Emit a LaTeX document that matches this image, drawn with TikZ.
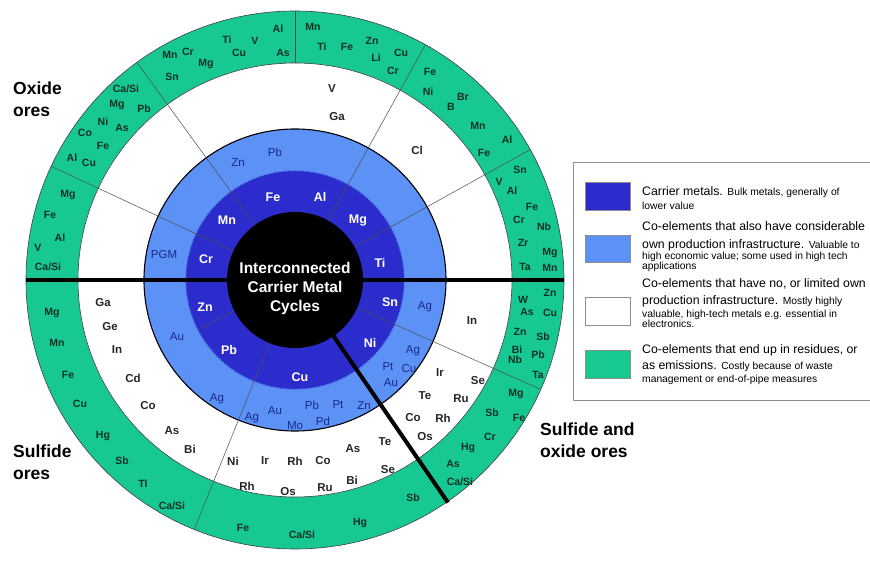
\documentclass[tikz,border=0pt]{standalone}
\usepackage{fontspec}
\setmainfont{Liberation Sans}
\usetikzlibrary{decorations.pathmorphing}

\definecolor{carrier}{RGB}{44,44,204}
\definecolor{coown}{RGB}{92,146,246}
\definecolor{residue}{RGB}{24,200,146}
\definecolor{residuetext}{RGB}{10,50,35}
\definecolor{coowntext}{RGB}{28,40,140}

\newcommand{\legsmall}{\fontsize{10.3}{10}\selectfont}
\newcommand{\leglines}{\lineskiplimit=-100pt\relax}

\tikzset{
  ring edge/.style={draw=black!75,line width=0.6pt},
  sector line/.style={draw=black!70,line width=0.5pt},
  ore line/.style={draw=black,line width=4pt},
  el green/.style={font=\fontsize{10.5}{12}\selectfont\bfseries,text=residuetext,inner sep=0pt},
  el white/.style={font=\fontsize{11.5}{13}\selectfont\bfseries,text=black!85,inner sep=0pt},
  el blue/.style={font=\fontsize{11.5}{13}\selectfont,text=coowntext,inner sep=0pt},
  el carrier/.style={font=\fontsize{12.5}{14}\selectfont\bfseries,text=white,inner sep=0pt},
  ore label/.style={font=\fontsize{17.5}{21.5}\selectfont\bfseries,align=left,anchor=north west,inner sep=0pt},
  swatch/.style={draw=black!45,line width=0.5pt},
  legend text/.style={text width=270pt,align=flush left,anchor=north west,inner sep=0pt,
    font=\fontsize{12.3}{10}\selectfont,execute at begin node=\leglines},
}

\begin{document}
\begin{tikzpicture}[x=1pt,y=1pt]
\useasboundingbox (-295,-281) rectangle (575,280);
\fill[white] (-295,-281) rectangle (575,280);

% rings
\fill[residue,ring edge] (0,0) circle (269);
\fill[white,ring edge] (0,0) circle (217);
\fill[coown,draw=black,line width=1.1pt] (0,0) circle (151);
\fill[carrier,decorate,decoration={zigzag,segment length=2.2pt,amplitude=0.8pt}] (0,0) circle (109);

% sector boundaries
\foreach \a in {29,61,126,155,248,336}
  \draw[sector line] (\a:68) -- (\a:269);
\draw[sector line] (90:217) -- (90:269);
\draw[sector line] (207:68) -- (207:109);

\fill[black] (0,0) circle (68);

% ore boundaries
\draw[ore line] (180:269) -- (0:269);
\draw[ore line] (-55.5:66) -- (-55.5:270);

\node[font=\fontsize{15.5}{19}\selectfont\bfseries,text=white,align=center] (hub) at (0,-8)
  {Interconnected\\Carrier Metal\\Cycles};

\begin{scope}[x=1pt,y=-1pt,shift={(-295pt,280pt)}]
% residues ring
\foreach \px/\py/\el [count=\i] in {170/55/Mn,188/52/Cr,206/64/Mg,227/40/Ti,255/41/V,239/53/Cu,278/29/Al,283/53/As,172/77/Sn,
  126/89/{Ca/Si},117/105/Mg,144/109/Pb,103/122/Ni,122/128/As,85/133/Co,103/146/Fe,72/158/Al,89/163/Cu,
  313/27/Mn,322/47/Ti,347/47/Fe,372/41/Zn,376/58/Li,401/53/Cu,393/71/Cr,
  430/72/Fe,428/92/Ni,463/97/Br,451/107/B,478/126/Mn,507/140/Al,484/153/Fe,
  520/170/Sn,499/182/V,512/191/Al,532/207/Fe,519/220/Cr,544/227/Nb,523/243/Zr,550/253/Mg,525/267/Ta,550/268/Mn,
  550/293/Zn,523/300/W,527/312/As,550/313/Cu,520/332/Zn,543/337/Sb,517/350/Bi,515/360/Nb,538/355/Pb,538/375/Ta,
  516/394/Mg,492/413/Sb,519/418/Fe,490/437/Cr,468/448/Hg,453/464/As,460/482/{Ca/Si},
  413/498/Sb,360/523/Hg,302/535/{Ca/Si},243/528/Fe,
  172/506/{Ca/Si},143/484/Tl,122/461/Sb,103/436/Hg,80/404/Cu,68/375/Fe,57/343/Mn,52/313/Mg,
  68/195/Mg,50/215/Fe,60/238/Al,38/248/V,48/267/{Ca/Si}}
  \node[el green] (res\i) at (\px,\py) {\el};
% no own infrastructure ring
\foreach \px/\py/\el [count=\i] in {332/89/V,337/117/Ga,417/150/Cl,472/321/In,
  440/373/Ir,478/381/Se,425/396/Te,461/399/Ru,413/418/Co,443/418/Rh,425/437/Os,
  233/461/Ni,265/461/Ir,295/461/Rh,323/461/Co,353/449/As,385/442/Te,388/470/Se,352/480/Bi,247/486/Rh,288/492/Os,325/488/Ru,
  103/303/Ga,110/327/Ge,117/350/In,133/378/Cd,148/406/Co,172/431/As,190/449/Bi}
  \node[el white] (nop\i) at (\px,\py) {\el};
% own infrastructure ring
\foreach \px/\py/\el [count=\i] in {238/163/Zn,275/152/Pb,164/255/PGM,177/337/Au,217/399/Ag,252/418/Ag,275/411/Au,
  312/405/Pb,338/405/Pt,364/406/Zn,295/426/Mo,323/421/Pd,425/307/Ag,413/351/Ag,388/367/Pt,409/369/Cu,391/383/Au}
  \node[el blue] (own\i) at (\px,\py) {\el};
% carrier metals
\foreach \px/\py/\el [count=\i] in {273/197/Fe,320/197/Al,358/221/Mg,380/263/Ti,390/302/Sn,370/343/Ni,
  300/377/Cu,229/350/Pb,205/307/Zn,206/259/Cr,227/220/Mn}
  \node[el carrier] (car\i) at (\px,\py) {\el};
\end{scope}

% ore types
\node[ore label] (oxide) at (-282,198) {Oxide\\ores};
\node[ore label] (sulfide) at (-282,-165) {Sulfide\\ores};
\node[ore label] (mixed) at (245,-143) {Sulfide and\\oxide ores};

% legend
\draw[black!45,line width=0.7pt] (278,118) rectangle (580,-120);
\draw[swatch,fill=carrier] (290,98) rectangle (335,70);
\draw[swatch,fill=coown] (290,45) rectangle (335,18);
\draw[swatch,fill=white] (290,-17) rectangle (335,-45);
\draw[swatch,fill=residue] (290,-70) rectangle (335,-98);
\node[legend text] (leg1) at (347,94) {Carrier metals. {\legsmall Bulk metals, generally of}\\[4pt]{\legsmall lower value}};
\node[legend text] (leg2) at (347,59) {Co-elements that also have considerable\\[8pt]own production infrastructure. {\legsmall Valuable to}\\[1pt]{\legsmall high economic value; some used in high tech}\\[0.5pt]{\legsmall applications}};
\node[legend text] (leg3) at (347,2) {Co-elements that have no, or limited own\\[7pt]production infrastructure. {\legsmall Mostly highly}\\[3pt]{\legsmall valuable, high-tech metals e.g. essential in}\\{\legsmall electronics.}};
\node[legend text] (leg4) at (347,-64) {Co-elements that end up in residues, or\\[6pt]as emissions. {\legsmall Costly because of waste}\\[3pt]{\legsmall management or end-of-pipe measures}};

\end{tikzpicture}
\end{document}
